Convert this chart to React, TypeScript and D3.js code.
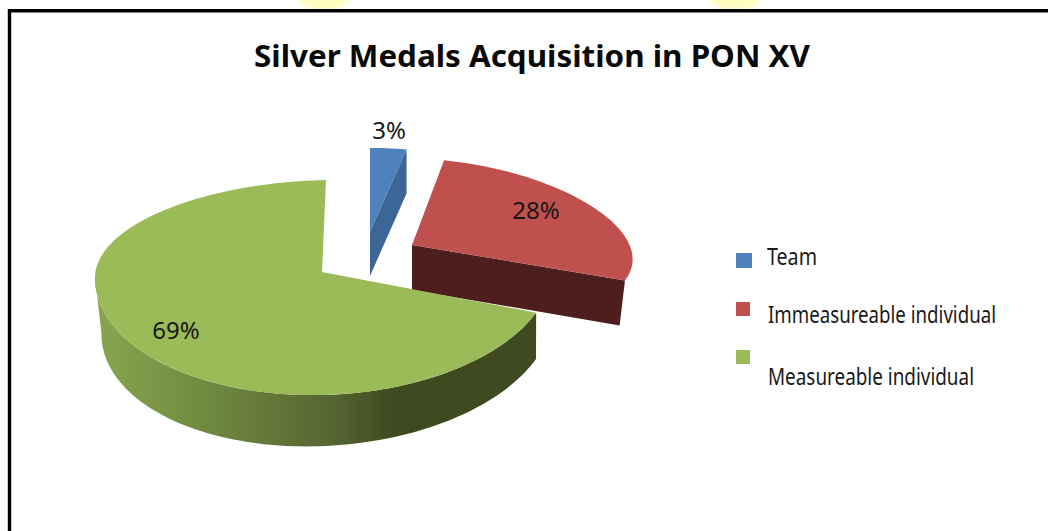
import React from "react";
import * as d3 from "d3";

const TITLE = "Silver Medals Acquisition in PON XV";
const categories = ["Team", "Immeasureable individual", "Measureable individual"];
const values = [3, 28, 69];
const labels = ["3%", "28%", "69%"];
const topColors = ["#4f81bd", "#bf504d", "#9bbb59"];
const sideColors = ["#3c6695", "#4e1e1e", "url(#greenSide)"];

const W = 1048;
const H = 531;
const FONT = "'Noto Sans', 'Open Sans', sans-serif";

// projection of each exploded 3D slice
type Proj = {
  cx: number; cy: number; ox: number; rx: number; sk: number; persp: number;
  ryUp: number; ryDown: number; tilt: number;
  depth: number; depthRx: number; depthOx: number; depthTilt: number;
};
const projections: Proj[] = [
  { cx: 370, cy: 232, ox: 0, rx: 195, sk: 0, persp: 0, ryUp: 84, ryDown: 84, tilt: 0, depth: 44, depthRx: 1, depthOx: 0, depthTilt: 0 },
  { cx: 412, cy: 245, ox: 0, rx: 219, sk: -5, persp: 0.1, ryUp: 87, ryDown: 86, tilt: 4, depth: 45, depthRx: 0.975, depthOx: 0, depthTilt: 0 },
  { cx: 322, cy: 272, ox: 2, rx: 229, sk: 2, persp: 0, ryUp: 92, ryDown: 123, tilt: -5, depth: 51, depthRx: 0.985, depthOx: 3, depthTilt: -5 },
];
const labelPos = [
  { x: 389, y: 139 },
  { x: 536, y: 219 },
  { x: 176, y: 339 },
];
const legendRows = [
  { swatchY: 253, swatchW: 16, swatchH: 15, textX: 767, textY: 265, textW: 50 },
  { swatchY: 302, swatchW: 14, swatchH: 14, textX: 768, textY: 323, textW: 228 },
  { swatchY: 350, swatchW: 14, swatchH: 14, textX: 768, textY: 385, textW: 206 },
];

const pie = d3.pie<number>().sort(null).value((d) => d);
const arcs = pie(values);

function point(p: Proj, a: number, lower = false): [number, number] {
  const s = Math.sin(a);
  const c = Math.cos(a);
  const ry = c >= 0 ? p.ryUp : p.ryDown;
  const f = lower ? p.depthRx : 1;
  const g = 1 - p.persp * c;
  return [
    p.cx + p.ox + (lower ? p.depthOx : 0) + (p.rx * s * g + p.sk * c) * f,
    p.cy - ry * c + p.tilt * s + (lower ? p.depth + p.depthTilt * s : 0),
  ];
}

function sample(a0: number, a1: number): number[] {
  const n = Math.max(4, Math.ceil((a1 - a0) / 0.03));
  return d3.range(n + 1).map((i) => a0 + ((a1 - a0) * i) / n);
}

const line = d3.line<[number, number]>();

function topPath(p: Proj, a0: number, a1: number): string {
  return (line([[p.cx, p.cy], ...sample(a0, a1).map((a) => point(p, a))]) as string) + "Z";
}

function outerSide(p: Proj, a0: number, a1: number): string {
  const upper = sample(a0, a1).map((a) => point(p, a));
  const lower = sample(a0, a1).map((a) => point(p, a, true)).reverse();
  return (line([...upper, ...lower]) as string) + "Z";
}

function cutSide(p: Proj, a: number): string {
  const e = point(p, a);
  const e2 = point(p, a, true);
  return (line([[p.cx, p.cy], e, e2, [p.cx, p.cy + p.depth]]) as string) + "Z";
}

export default function App() {
  const [team, imm, meas] = arcs;
  const leftOfGreen = Math.PI * 1.5;
  return (
    <svg width={W} height={H} viewBox={`0 0 ${W} ${H}`} style={{ position: "absolute", left: 0, top: 0, display: "block", background: "#fff" }}>
      <defs>
        <linearGradient id="greenSide" gradientUnits="userSpaceOnUse" x1={96} x2={396} y1={0} y2={0}>
          <stop offset="0" stopColor="#88a550" />
          <stop offset="0.3" stopColor="#748f42" />
          <stop offset="0.78" stopColor="#566632" />
          <stop offset="1" stopColor="#3f4a20" />
        </linearGradient>
        <filter id="glow" x="-50%" y="-50%" width="200%" height="200%">
          <feGaussianBlur stdDeviation="2" />
        </filter>
        <clipPath id="aboveFrame">
          <rect x={0} y={0} width={W} height={10} />
        </clipPath>
      </defs>

      <g clipPath="url(#aboveFrame)">
        <ellipse cx={324} cy={-4} rx={26} ry={15} fill="#fffcc0" filter="url(#glow)" />
        <ellipse cx={735} cy={-4} rx={26} ry={15} fill="#fffcc0" filter="url(#glow)" />
      </g>
      <path d={`M9.5,${H + 5}V10.8H${W + 5}`} fill="none" stroke="#000" strokeWidth={3.4} />

      <text x={532} y={67} textAnchor="middle" fontFamily={FONT} fontWeight={700} fontSize={31} fill="#0a0a0a" textLength={556} lengthAdjust="spacingAndGlyphs">
        {TITLE}
      </text>

      {/* Team slice */}
      <path d={cutSide(projections[0], team.endAngle)} fill={sideColors[0]} />
      <path d={topPath(projections[0], team.startAngle, team.endAngle)} fill={topColors[0]} />

      {/* Immeasureable slice */}
      <path d={cutSide(projections[1], imm.endAngle)} fill={sideColors[1]} />
      <path d={topPath(projections[1], imm.startAngle, imm.endAngle)} fill={topColors[1]} />

      {/* Measureable slice */}
      <path d={outerSide(projections[2], meas.startAngle, leftOfGreen)} fill={sideColors[2]} />
      <path d={topPath(projections[2], meas.startAngle, meas.endAngle)} fill={topColors[2]} />

      {labels.map((t, i) => (
        <text key={t} x={labelPos[i].x} y={labelPos[i].y} textAnchor="middle" fontFamily={FONT} fontSize={24} fill="#161616">
          {t}
        </text>
      ))}

      {categories.map((c, i) => {
        const r = legendRows[i];
        return (
          <g key={c}>
            <rect x={736} y={r.swatchY} width={r.swatchW} height={r.swatchH} fill={topColors[i]} />
            <text x={r.textX} y={r.textY} fontFamily={FONT} fontSize={23} fill="#1a1a1a" textLength={r.textW} lengthAdjust="spacingAndGlyphs">
              {c}
            </text>
          </g>
        );
      })}
    </svg>
  );
}
